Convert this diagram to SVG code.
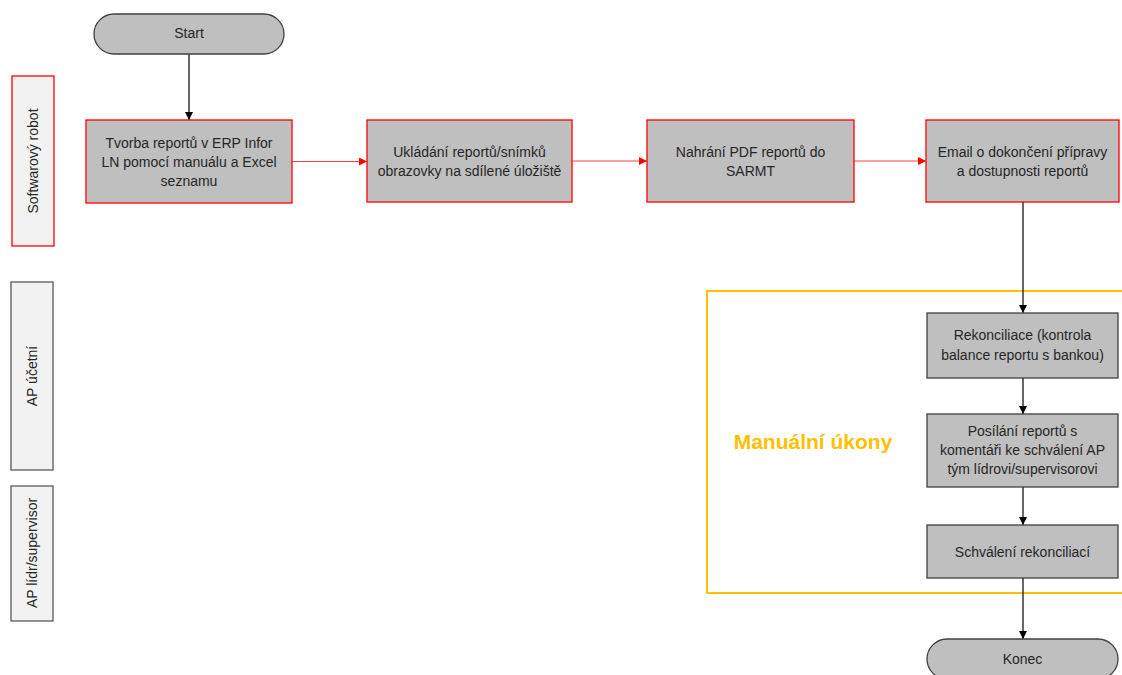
<svg xmlns="http://www.w3.org/2000/svg" width="1122" height="675" viewBox="0 0 1122 675">
<style>
text{font-family:"Liberation Sans",Arial,sans-serif;font-size:14px;fill:#262626;text-anchor:middle}
.rb{fill:#bfbfbf;stroke:#ff0000;stroke-width:1.3}
.gb{fill:#bfbfbf;stroke:#404040;stroke-width:1.3}
.pill{fill:#bfbfbf;stroke:#404040;stroke-width:1.3}
.lane{fill:#f2f2f2;stroke:#595959;stroke-width:1.3}
.laner{fill:#f2f2f2;stroke:#ff0000;stroke-width:1.3}
.k{stroke:#000;stroke-width:1.2;fill:none}
.r{stroke:#ff4040;stroke-width:1.2;fill:none}
</style>
<defs>
<marker id="ak" viewBox="0 0 10 10" refX="10" refY="5" markerWidth="8" markerHeight="8" markerUnits="userSpaceOnUse" orient="auto"><path d="M0,0L10,5L0,10z" fill="#000"/></marker>
<marker id="ar" viewBox="0 0 10 10" refX="10" refY="5" markerWidth="8" markerHeight="8" markerUnits="userSpaceOnUse" orient="auto"><path d="M0,0L10,5L0,10z" fill="#ff0000"/></marker>
</defs>
<g id="lane-robot"><rect class="laner" x="12" y="76" width="42" height="170"/><text transform="translate(38,161) rotate(-90)">Softwarový robot</text></g>
<g id="lane-ucetni"><rect class="lane" x="11" y="282" width="42" height="188"/><text transform="translate(37,376) rotate(-90)">AP účetní</text></g>
<g id="lane-lidr"><rect class="lane" x="11" y="486" width="42" height="135"/><text transform="translate(37,553) rotate(-90)">AP lídr/supervisor</text></g>
<g id="manual"><rect x="707" y="291" width="430" height="302" fill="none" stroke="#ffc000" stroke-width="2"/><text x="813" y="449" style="font-size:21px;font-weight:bold;fill:#ffc000">Manuální úkony</text></g>
<g id="connectors">
<path class="k" d="M189,54V120" marker-end="url(#ak)"/>
<path class="r" d="M292,161.5H367" marker-end="url(#ar)"/>
<path class="r" d="M572,161H647" marker-end="url(#ar)"/>
<path class="r" d="M854,161H926" marker-end="url(#ar)"/>
<path class="k" d="M1023,202V313" marker-end="url(#ak)"/>
<path class="k" d="M1023,378V414" marker-end="url(#ak)"/>
<path class="k" d="M1023,487V525" marker-end="url(#ak)"/>
<path class="k" d="M1023,578V639" marker-end="url(#ak)"/>
</g>
<g id="start"><rect class="pill" x="94" y="14" width="190" height="40" rx="20"/><text x="189" y="38">Start</text></g>
<g id="n1"><rect class="rb" x="86" y="120" width="206" height="83"/><text x="189" y="148">Tvorba reportů v ERP Infor</text><text x="189" y="167">LN pomocí manuálu a Excel</text><text x="189" y="186">seznamu</text></g>
<g id="n2"><rect class="rb" x="367" y="120" width="205" height="82"/><text x="469.5" y="157">Ukládání reportů/snímků</text><text x="469.5" y="176">obrazovky na sdílené úložiště</text></g>
<g id="n3"><rect class="rb" x="647" y="120" width="207" height="82"/><text x="750.5" y="157">Nahrání PDF reportů do</text><text x="750.5" y="176">SARMT</text></g>
<g id="n4"><rect class="rb" x="926" y="120" width="193" height="82"/><text x="1022.5" y="157">Email o dokončení přípravy</text><text x="1022.5" y="176">a dostupnosti reportů</text></g>
<g id="n5"><rect class="gb" x="927" y="313" width="191" height="65"/><text x="1022.5" y="340">Rekonciliace (kontrola</text><text x="1022.5" y="360">balance reportu s bankou)</text></g>
<g id="n6"><rect class="gb" x="927" y="414" width="191" height="73"/><text x="1022.5" y="436">Posílání reportů s</text><text x="1022.5" y="455">komentáři ke schválení AP</text><text x="1022.5" y="474">tým lídrovi/supervisorovi</text></g>
<g id="n7"><rect class="gb" x="927" y="525" width="191" height="53"/><text x="1022.5" y="557">Schválení rekonciliací</text></g>
<g id="end"><rect class="pill" x="927" y="639" width="191" height="40" rx="20"/><text x="1022.5" y="664">Konec</text></g>
</svg>
